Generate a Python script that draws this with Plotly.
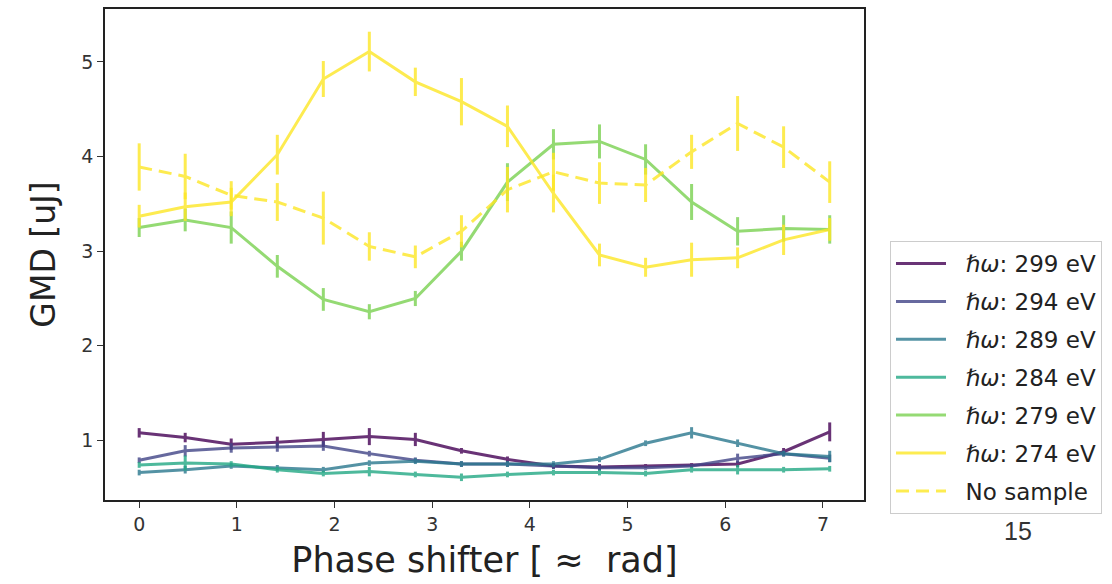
import plotly.graph_objects as go

# Phase shifter positions [≈ rad]
phase = [0.0, 0.471, 0.942, 1.414, 1.885, 2.356, 2.827, 3.299,
         3.770, 4.241, 4.712, 5.184, 5.655, 6.126, 6.597, 7.069]

gmd_299 = [1.08, 1.03, 0.96, 0.98, 1.01, 1.04, 1.01, 0.89,
           0.80, 0.73, 0.72, 0.73, 0.74, 0.75, 0.88, 1.09]
err_299 = [0.05, 0.05, 0.06, 0.06, 0.08, 0.09, 0.07, 0.03,
           0.03, 0.03, 0.03, 0.02, 0.02, 0.03, 0.04, 0.10]

gmd_294 = [0.79, 0.89, 0.92, 0.93, 0.94, 0.86, 0.79, 0.75,
           0.75, 0.73, 0.71, 0.71, 0.73, 0.81, 0.86, 0.81]
err_294 = [0.03, 0.06, 0.05, 0.05, 0.05, 0.03, 0.03, 0.03,
           0.03, 0.03, 0.03, 0.02, 0.02, 0.05, 0.03, 0.04]

gmd_289 = [0.66, 0.69, 0.73, 0.71, 0.69, 0.76, 0.78, 0.75,
           0.75, 0.75, 0.80, 0.97, 1.08, 0.97, 0.86, 0.83]
err_289 = [0.03, 0.04, 0.03, 0.03, 0.03, 0.03, 0.03, 0.03,
           0.03, 0.03, 0.03, 0.03, 0.06, 0.04, 0.03, 0.06]

gmd_284 = [0.74, 0.76, 0.75, 0.69, 0.65, 0.67, 0.64, 0.61,
           0.64, 0.66, 0.66, 0.65, 0.69, 0.69, 0.69, 0.70]
err_284 = [0.03, 0.08, 0.03, 0.03, 0.03, 0.05, 0.03, 0.04,
           0.03, 0.03, 0.03, 0.03, 0.03, 0.05, 0.03, 0.03]

gmd_279 = [3.25, 3.33, 3.25, 2.84, 2.49, 2.36, 2.50, 3.00,
           3.73, 4.13, 4.16, 3.97, 3.52, 3.21, 3.24, 3.23]
err_279 = [0.10, 0.12, 0.17, 0.12, 0.12, 0.08, 0.08, 0.10,
           0.20, 0.16, 0.18, 0.16, 0.19, 0.15, 0.14, 0.15]

gmd_274 = [3.37, 3.47, 3.52, 4.02, 4.82, 5.11, 4.79, 4.58,
           4.32, 3.61, 2.96, 2.83, 2.91, 2.93, 3.12, 3.23]
err_274 = [0.12, 0.15, 0.15, 0.21, 0.19, 0.21, 0.15, 0.25,
           0.22, 0.20, 0.12, 0.10, 0.18, 0.11, 0.16, 0.12]

gmd_nosample = [3.89, 3.79, 3.59, 3.52, 3.35, 3.05, 2.94, 3.21,
                3.65, 3.84, 3.72, 3.70, 4.05, 4.35, 4.10, 3.73]
err_nosample = [0.25, 0.24, 0.15, 0.20, 0.28, 0.15, 0.12, 0.17,
                0.24, 0.20, 0.22, 0.18, 0.18, 0.29, 0.22, 0.22]

series_names = ["ℏω: 299 eV", "ℏω: 294 eV", "ℏω: 289 eV",
                "ℏω: 284 eV", "ℏω: 279 eV", "ℏω: 274 eV"]
series_vals = [gmd_299, gmd_294, gmd_289, gmd_284, gmd_279, gmd_274]
series_errs = [err_299, err_294, err_289, err_284, err_279, err_274]
colors = ["#440154", "#414487", "#2a788e", "#22a884", "#7ad151", "#fde725"]

fig = go.Figure()

PAD = "\u00a0\u00a0"

def legend_label(name):
    sym, rest = name.split(":", 1)
    return PAD + "<i>" + sym + "</i>:" + rest

for i, (name, vals, errs, col) in enumerate(zip(series_names, series_vals, series_errs, colors)):
    fig.add_trace(go.Scatter(
        x=phase, y=vals, mode="lines", name=legend_label(name),
        line=dict(color=col, width=3), opacity=0.8,
        error_y=dict(type="data", array=errs, visible=True, color=col,
                     thickness=3, width=0),
        legendgroup="g%d" % i,
    ))

fig.add_trace(go.Scatter(
    x=phase, y=gmd_nosample, mode="lines", name=PAD + "No sample",
    line=dict(color=colors[-1], width=3, dash="13px,7px"), opacity=0.8,
    error_y=dict(type="data", array=err_nosample, visible=True,
                 color=colors[-1], thickness=3, width=0),
    legendgroup="g6",
))

L, R, T, B = 105, 864, 7, 500
W, H = 1112, 584

axis_common = dict(
    showline=True, linecolor="#222", linewidth=1.5, mirror=True,
    ticks="outside", ticklen=6, tickwidth=1.2, tickcolor="#333",
    showgrid=False, zeroline=False,
    tickfont=dict(family="DejaVu Sans", size=19, color="#333"),
)

fig.update_layout(
    width=W, height=H,
    margin=dict(l=L, r=W - R, t=T, b=H - B),
    plot_bgcolor="white", paper_bgcolor="white",
    xaxis=dict(range=[-0.35, 7.42], tickvals=[0, 1, 2, 3, 4, 5, 6, 7],
               title=dict(text="Phase shifter [ ≈  rad]",
                          font=dict(family="DejaVu Sans", size=35, color="#222"),
                          standoff=14),
               **axis_common),
    yaxis=dict(range=[0.37, 5.56], tickvals=[1, 2, 3, 4, 5],
               title=dict(text="GMD [uJ]",
                          font=dict(family="DejaVu Sans", size=33, color="#222"),
                          standoff=16),
               **axis_common),
    legend=dict(
        x=(890 - L) / (R - L), y=(B - 240) / (B - T),
        xanchor="left", yanchor="top",
        bgcolor="white", bordercolor="#ccc", borderwidth=1,
        font=dict(family="DejaVu Sans", size=23, color="#222"),
        tracegroupgap=5, itemwidth=50,
    ),
    showlegend=True,
)

fig.add_annotation(
    text="15", xref="paper", yref="paper",
    x=(1018 - L) / (R - L), y=(B - 531) / (B - T),
    showarrow=False, xanchor="center", yanchor="middle",
    font=dict(family="Liberation Sans", size=25, color="#333"),
)

fig.write_html("out.html")
